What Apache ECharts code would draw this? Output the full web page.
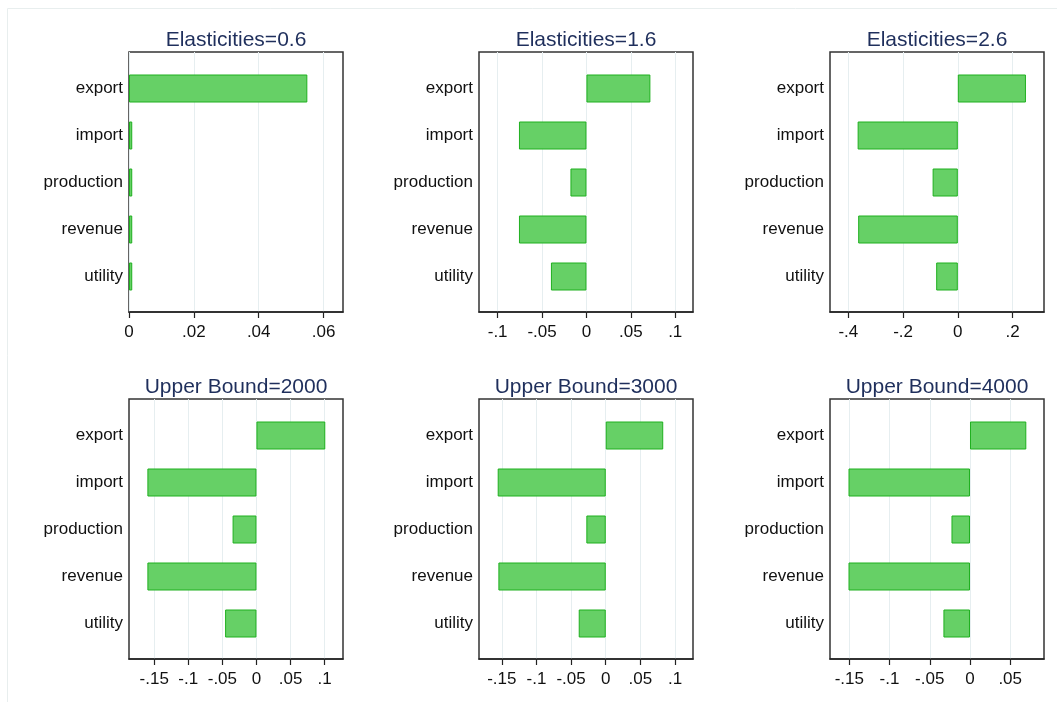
<!DOCTYPE html>
<html>
<head>
<meta charset="utf-8">
<title>Elasticities and upper bounds</title>
<script src="https://cdn.jsdelivr.net/npm/echarts@6/dist/echarts.min.js"></script>
<style>
  html, body { margin: 0; padding: 0; background: #ffffff; }
  #chart { width: 1057px; height: 702px; }
</style>
</head>
<body>
<div id="chart"></div>
<script>
// Outcome categories, listed top to bottom
const categories = ['export', 'import', 'production', 'revenue', 'utility'];

// Panel titles
const titles = [
  'Elasticities=0.6', 'Elasticities=1.6', 'Elasticities=2.6',
  'Upper Bound=2000', 'Upper Bound=3000', 'Upper Bound=4000'
];

// Changes per panel, same order as categories
const elasticity06 = [0.055, 0.001, 0.001, 0.001, 0.001];
const elasticity16 = [0.072, -0.076, -0.018, -0.076, -0.040];
const elasticity26 = [0.249, -0.366, -0.092, -0.364, -0.079];
const upper2000 = [0.101, -0.160, -0.035, -0.160, -0.046];
const upper3000 = [0.083, -0.156, -0.028, -0.155, -0.039];
const upper4000 = [0.070, -0.151, -0.023, -0.151, -0.033];

// Tick values per panel
const ticks06 = [0, 0.02, 0.04, 0.06];
const ticks16 = [-0.1, -0.05, 0, 0.05, 0.1];
const ticks26 = [-0.4, -0.2, 0, 0.2];
const ticks2000 = [-0.15, -0.1, -0.05, 0, 0.05, 0.1];
const ticks3000 = [-0.15, -0.1, -0.05, 0, 0.05, 0.1];
const ticks4000 = [-0.15, -0.1, -0.05, 0, 0.05];

// Axis extents per panel
const ranges = [
  [0, 0.066], [-0.121, 0.120], [-0.467, 0.315],
  [-0.187, 0.127], [-0.183, 0.126], [-0.174, 0.092]
];

const panelValues = [elasticity06, elasticity16, elasticity26, upper2000, upper3000, upper4000];
const panelTicks = [ticks06, ticks16, ticks26, ticks2000, ticks3000, ticks4000];

// Layout of the 2 x 3 panel boxes
const colLeft = [129, 479, 830];
const rowTop = [52, 399];
const boxW = 214;
const boxH = 260;
const padTop = 13;
const padBottom = 12;

const FONT = 'Liberation Sans, Arial, Helvetica, sans-serif';

// Stata-style numbers: drop the leading zero (.05, -.1)
function fmt(v) {
  if (Math.abs(v) < 1e-12) return '0';
  let s = String(+v.toFixed(4));
  return s.replace(/^(-?)0\./, '$1.');
}

const grid = [], xAxis = [], yAxis = [], series = [], title = [];

panelValues.forEach((vals, i) => {
  const col = i % 3, row = Math.floor(i / 3);
  const left = colLeft[col], top = rowTop[row];
  const [mn, mx] = ranges[i];
  const tk = panelTicks[i];

  title.push({
    text: titles[i],
    left: left + boxW / 2,
    top: top - 22,
    textAlign: 'center',
    padding: 0,
    textStyle: { fontFamily: FONT, fontSize: 21, fontWeight: 'normal', color: '#1f2f5c' }
  });

  // frame grid: outline box, gridlines, ticks and tick labels
  const fg = grid.length;
  grid.push({
    left: left, top: top, width: boxW, height: boxH,
    show: true, borderColor: '#333', borderWidth: 1.5, backgroundColor: 'transparent'
  });
  xAxis.push({
    type: 'value', gridIndex: fg, min: mn, max: mx,
    axisLine: { show: true, onZero: false, lineStyle: { color: '#222', width: 1.5 } },
    axisTick: { show: true, length: 6, customValues: tk, lineStyle: { color: '#222', width: 1.2 } },
    axisLabel: {
      customValues: tk, formatter: fmt, margin: 12,
      fontFamily: FONT, fontSize: 17, color: '#111'
    },
    splitLine: { show: true, lineStyle: { color: '#e6eef0', width: 1 } }
  });
  yAxis.push({ type: 'value', gridIndex: fg, show: false, min: 0, max: 1, splitLine: { show: false } });

  // data grid: categories and bars, inset inside the frame
  const dg = grid.length;
  grid.push({
    left: left, top: top + padTop, width: boxW, height: boxH - padTop - padBottom
  });
  xAxis.push({
    type: 'value', gridIndex: dg, min: mn, max: mx, show: false,
    splitLine: { show: false }
  });
  yAxis.push({
    type: 'category', gridIndex: dg, data: categories, inverse: true,
    axisLine: { show: false }, axisTick: { show: false },
    axisLabel: { margin: 6, fontFamily: FONT, fontSize: 17, color: '#111' }
  });
  series.push({
    type: 'bar', xAxisIndex: xAxis.length - 1, yAxisIndex: yAxis.length - 1,
    data: vals, barWidth: 28,
    itemStyle: { color: '#66d066', borderColor: '#1fb01f', borderWidth: 1 },
    silent: true
  });
});

const chart = echarts.init(document.getElementById('chart'), null, { renderer: 'canvas' });
chart.setOption({
  backgroundColor: '#ffffff',
  animation: false,
  title, grid, xAxis, yAxis, series,
  graphic: [{
    type: 'rect', silent: true, z: -10,
    shape: { x: 7.5, y: 8.5, width: 1100, height: 800 },
    style: { fill: 'none', stroke: '#e8eeee', lineWidth: 1 }
  }]
});
</script>
</body>
</html>
